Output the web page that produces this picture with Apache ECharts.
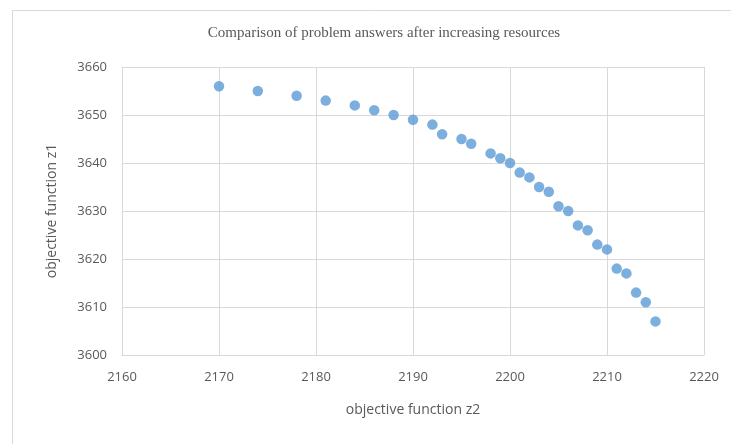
<!DOCTYPE html>
<html><head><meta charset="utf-8">
<script src="https://cdn.jsdelivr.net/npm/echarts@6/dist/echarts.min.js"></script>
<style>html,body{margin:0;padding:0;background:#fff}#c{width:731px;height:444px}</style>
</head><body><div id="c"></div>
<script>
var z2 = [2170,2174,2178,2181,2184,2186,2188,2190,2192,2193,2195,2196,2198,2199,2200,2201,2202,2203,2204,2205,2206,2207,2208,2209,2210,2211,2212,2213,2214,2215];
var z1 = [3656,3655,3654,3653,3652,3651,3650,3649,3648,3646,3645,3644,3642,3641,3640,3638,3637,3635,3634,3631,3630,3627,3626,3623,3622,3618,3617,3613,3611,3607];
var titleText = 'Comparison of problem answers after increasing resources';
var xName = 'objective function z2', yName = 'objective function z1';
var pts = z2.map(function(v,i){return [v, z1[i]];});
var chart = echarts.init(document.getElementById('c'));
var FF = 'Open Sans';
chart.setOption({
  animation:false,
  graphic:[{type:'rect', shape:{x:12.5,y:10.5,width:760,height:460}, style:{fill:'none', stroke:'#D9D9D9', lineWidth:1}, silent:true}],
  title:{text:titleText, left:379, textAlign:'center', top:21,
    textStyle:{fontFamily:'Liberation Serif', fontWeight:'normal', fontSize:15, color:'#595959'}},
  grid:{left:122, right:27, top:67, bottom:89},
  xAxis:{type:'value', min:2160, max:2220, interval:10,
    name:xName, nameLocation:'middle', nameGap:48,
    nameTextStyle:{color:'#595959', fontFamily:FF, fontSize:14},
    axisLine:{show:true, lineStyle:{color:'#D9D9D9'}}, axisTick:{show:false},
    axisLabel:{margin:16, color:'#595959', fontFamily:FF, fontSize:13, formatter:function(v){return String(v);}},
    splitLine:{show:true, lineStyle:{color:'#D9D9D9'}}},
  yAxis:{type:'value', min:3600, max:3660, interval:10,
    name:yName, nameLocation:'middle', nameGap:63,
    nameTextStyle:{color:'#595959', fontFamily:FF, fontSize:14},
    axisLine:{show:true, lineStyle:{color:'#D9D9D9'}}, axisTick:{show:false},
    axisLabel:{margin:15, color:'#595959', fontFamily:FF, fontSize:13, formatter:function(v){return String(v);}},
    splitLine:{show:true, lineStyle:{color:'#D9D9D9'}}},
  series:[{type:'scatter', data:pts, symbol:'circle', symbolSize:10.5,
    itemStyle:{color:'#5B9BD5'}}]
});
</script></body></html>
